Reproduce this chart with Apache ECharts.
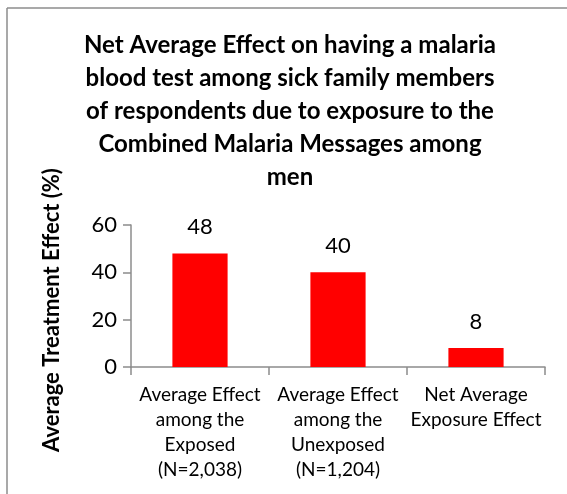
<!DOCTYPE html>
<html>
<head>
<meta charset="utf-8">
<script src="https://cdn.jsdelivr.net/npm/echarts@6/dist/echarts.min.js"></script>
<style>
  html, body { margin: 0; padding: 0; background: #ffffff; }
  #chart { width: 567px; height: 494px; }
</style>
</head>
<body>
<div id="chart"></div>
<script>
// Bar chart data
const categories = [
  'Average Effect\namong the\nExposed\n(N=2,038)',
  'Average Effect\namong the\nUnexposed\n(N=1,204)',
  'Net Average\nExposure Effect'
];
const effectValues = [48, 40, 8];
const yTicks = [0, 20, 40, 60];

const titleText = 'Net Average Effect on having a malaria\nblood test among sick family members\nof respondents due to exposure to the\nCombined Malaria Messages among\nmen';
const yAxisTitle = 'Average Treatment Effect (%)';

const FONT = 'Lato, "Open Sans", sans-serif';

const chart = echarts.init(document.getElementById('chart'), null, { renderer: 'canvas' });

chart.setOption({
  backgroundColor: '#ffffff',
  animation: false,
  title: {
    text: titleText,
    left: 285,
    top: 24,
    textAlign: 'center',
    textStyle: {
      fontFamily: FONT,
      fontWeight: 'bold',
      fontSize: 24,
      lineHeight: 33,
      color: '#000000'
    }
  },
  graphic: [
    // chart frame edges
    { type: 'line', shape: { x1: 7, y1: 8, x2: 567, y2: 8 }, style: { stroke: '#8c8c8c', lineWidth: 1.5 } },
    { type: 'line', shape: { x1: 7, y1: 8, x2: 7, y2: 494 }, style: { stroke: '#8c8c8c', lineWidth: 1.5 } },
    // value axis title, centred on the plot plus its category labels
    {
      type: 'text',
      x: 52,
      y: 310,
      rotation: Math.PI / 2,
      style: {
        text: yAxisTitle,
        fontFamily: FONT,
        fontWeight: 'bold',
        fontSize: 22,
        fill: '#000000',
        align: 'center',
        verticalAlign: 'middle'
      }
    }
  ],
  grid: { left: 131, right: 22, top: 225, bottom: 127, containLabel: false },
  xAxis: {
    type: 'category',
    data: categories,
    axisLine: { show: true, lineStyle: { color: '#8c8c8c', width: 1.5 } },
    axisTick: { show: true, alignWithLabel: false, length: 8, lineStyle: { color: '#8c8c8c', width: 1.5 } },
    axisLabel: {
      interval: 0,
      fontFamily: FONT,
      fontSize: 19,
      lineHeight: 25,
      color: '#000000',
      margin: 15,
      verticalAlign: 'top'
    }
  },
  yAxis: {
    type: 'value',
    min: 0,
    max: 60,
    interval: 20,
    splitLine: { show: false },
    axisLine: { show: true, lineStyle: { color: '#8c8c8c', width: 1.5 } },
    axisTick: { show: true, length: 8, lineStyle: { color: '#8c8c8c', width: 1.5 } },
    axisLabel: {
      fontFamily: FONT,
      fontSize: 22,
      color: '#000000',
      margin: 14,
      customValues: yTicks
    }
  },
  series: [{
    type: 'bar',
    data: effectValues,
    barWidth: '40%',
    itemStyle: { color: '#ff0000' },
    label: {
      show: true,
      position: 'top',
      distance: 15,
      fontFamily: FONT,
      fontSize: 22,
      color: '#000000'
    }
  }]
});
</script>
</body>
</html>
